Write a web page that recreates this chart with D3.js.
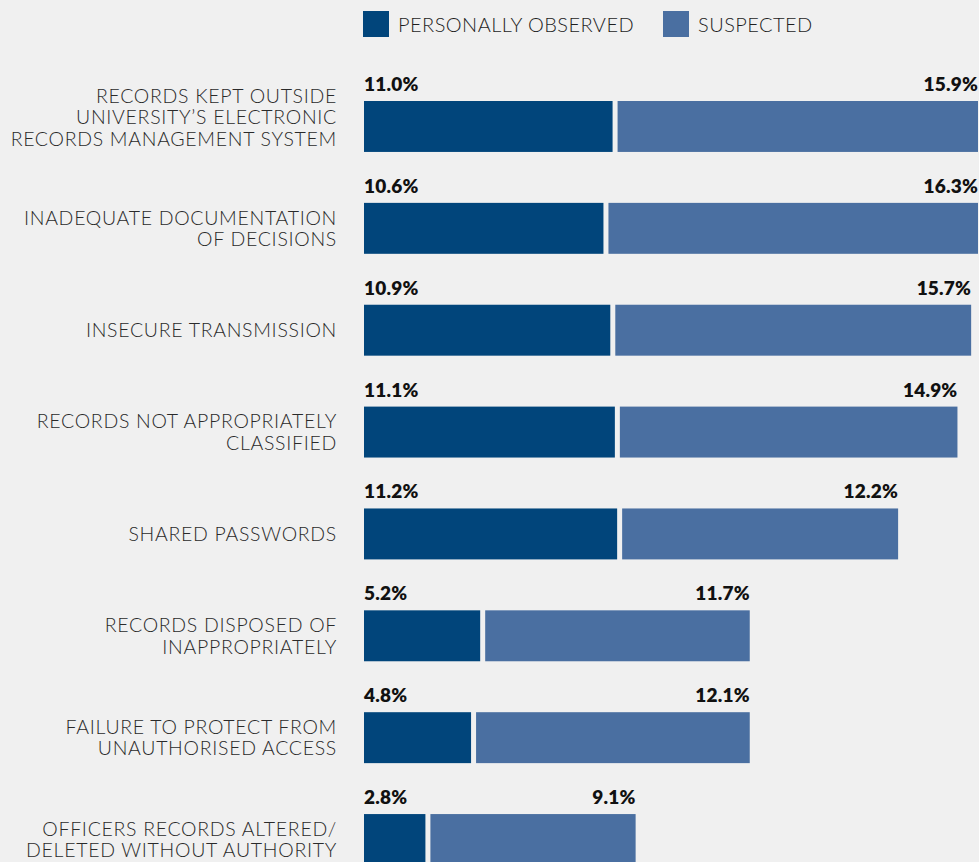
<!DOCTYPE html>
<html>
<head>
<meta charset="utf-8">
<script src="https://cdn.jsdelivr.net/npm/d3@7"></script>
<style>
  html, body { margin: 0; padding: 0; background: #f0f0f0; }
  svg { display: block; }
</style>
</head>
<body>
<svg id="chart" width="979" height="862"></svg>
<script>
// Breach categories, one label line per array entry
const categories = [
  ["RECORDS KEPT OUTSIDE", "UNIVERSITY\u2019S ELECTRONIC", "RECORDS MANAGEMENT SYSTEM"],
  ["INADEQUATE DOCUMENTATION", "OF DECISIONS"],
  ["INSECURE TRANSMISSION"],
  ["RECORDS NOT APPROPRIATELY", "CLASSIFIED"],
  ["SHARED PASSWORDS"],
  ["RECORDS DISPOSED OF", "INAPPROPRIATELY"],
  ["FAILURE TO PROTECT FROM", "UNAUTHORISED ACCESS"],
  ["OFFICERS RECORDS ALTERED/", "DELETED WITHOUT AUTHORITY"]
];
const observed  = [11.0, 10.6, 10.9, 11.1, 11.2, 5.2, 4.8, 2.8];
const suspected = [15.9, 16.3, 15.7, 14.9, 12.2, 11.7, 12.1, 9.1];
const seriesNames = ["PERSONALLY OBSERVED", "SUSPECTED"];
const colors = ["#01457b", "#4a6fa1"];

const svg = d3.select("#chart");
const GAP = 2.5;           // half of the white gap between segments
const LINE_H = 21.5;

const x = d3.scaleLinear()
  .domain([0, d3.max(observed.map((o, i) => o + suspected[i]))])
  .range([364, 978]);

const y = d3.scaleBand()
  .domain(d3.range(categories.length))
  .range([101, 865])
  .paddingInner(0.5)
  .paddingOuter(0);

const fmt = v => v.toFixed(1) + "%";

// Legend
const legend = svg.append("g");
const legendX = [363, 663];
seriesNames.forEach((name, i) => {
  const g = legend.append("g").attr("transform", `translate(${legendX[i]},11)`);
  g.append("rect").attr("width", 26).attr("height", 26).attr("fill", colors[i]);
  g.append("text")
    .attr("x", 35).attr("y", 20.5)
    .attr("font-family", "Lato, sans-serif")
    .attr("font-weight", 300)
    .attr("font-size", 20)
    .attr("letter-spacing", 0.45)
    .attr("fill", "#1e1e1e")
    .text(name);
});

// Rows
const rows = svg.append("g").selectAll("g.row")
  .data(categories.map((c, i) => ({ lines: c, o: observed[i], s: suspected[i], i })))
  .join("g").attr("class", "row");

rows.append("rect")
  .attr("x", d => x(0))
  .attr("y", d => y(d.i))
  .attr("width", d => x(d.o) - x(0) - GAP)
  .attr("height", y.bandwidth())
  .attr("fill", colors[0]);

rows.append("rect")
  .attr("x", d => x(d.o) + GAP)
  .attr("y", d => y(d.i))
  .attr("width", d => x(d.o + d.s) - x(d.o) - GAP)
  .attr("height", y.bandwidth())
  .attr("fill", colors[1]);

const valueText = sel => sel
  .attr("font-family", "Lato, sans-serif")
  .attr("font-weight", 800)
  .attr("font-size", 19)
  .attr("letter-spacing", 0.2)
  .attr("fill", "#111");

rows.append("text")
  .call(valueText)
  .attr("x", d => x(0))
  .attr("y", d => y(d.i) - 10)
  .text(d => fmt(d.o));

rows.append("text")
  .call(valueText)
  .attr("text-anchor", "end")
  .attr("x", d => x(d.o + d.s))
  .attr("y", d => y(d.i) - 10)
  .text(d => fmt(d.s));

// Category labels, right-aligned against the bars; long labels lift a little
rows.append("text")
  .attr("font-family", "Lato, sans-serif")
  .attr("font-weight", 300)
  .attr("font-size", 19.5)
  .attr("letter-spacing", 0.7)
  .attr("fill", "#2a2a2a")
  .attr("text-anchor", "end")
  .each(function(d) {
    const n = d.lines.length;
    const mid = y(d.i) + y.bandwidth() / 2 - Math.max(0, n - 2) * 9;
    const first = mid - (n - 1) * LINE_H / 2;
    d3.select(this).selectAll("tspan")
      .data(d.lines)
      .join("tspan")
      .attr("x", 337)
      .attr("y", (t, k) => first + k * LINE_H + 7)
      .text(t => t);
  });
</script>
</body>
</html>
